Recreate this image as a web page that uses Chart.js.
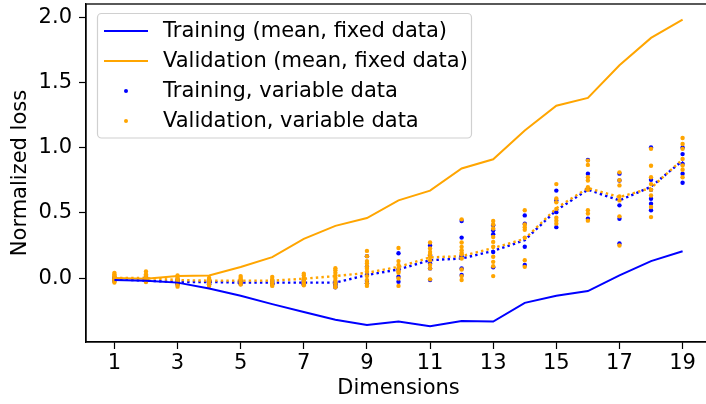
<!DOCTYPE html>
<html>
<head>
<meta charset="utf-8">
<script src="https://cdn.jsdelivr.net/npm/chart.js@4.4.0/dist/chart.umd.min.js"></script>
<style>
  html, body { margin: 0; padding: 0; background: #fff; overflow: hidden; }
  #wrap { width: 720px; height: 404px; }
</style>
</head>
<body>
<div id="wrap"><canvas id="myChart" width="720" height="404"></canvas></div>
<script>
// dimensões (eixo x)
const dims = [1, 2, 3, 4, 5, 6, 7, 8, 9, 10, 11, 12, 13, 14, 15, 16, 17, 18, 19]
const xTicks = [1, 3, 5, 7, 9, 11, 13, 15, 17, 19]
const yTicks = [0, 0.5, 1.0, 1.5, 2.0]

// médias com dados fixos
const trainFixed = [-0.015, -0.02, -0.035, -0.08, -0.135, -0.2, -0.26, -0.32, -0.36, -0.333, -0.37, -0.33, -0.333, -0.19, -0.135, -0.10, 0.02, 0.13, 0.205]
const valFixed = [0.0, -0.005, 0.015, 0.02, 0.085, 0.16, 0.30, 0.40, 0.46, 0.595, 0.67, 0.84, 0.91, 1.13, 1.32, 1.38, 1.63, 1.84, 1.98]

// médias com dados variáveis (linhas pontilhadas)
const trainVarMean = [-0.01, -0.02, -0.03, -0.03, -0.035, -0.035, -0.035, -0.035, 0.023, 0.066, 0.137, 0.15, 0.208, 0.29, 0.52, 0.677, 0.595, 0.70, 0.90]
const valVarMean = [0.0, 0.0, -0.015, -0.02, -0.02, -0.02, -0.005, 0.015, 0.04, 0.086, 0.158, 0.168, 0.23, 0.30, 0.535, 0.69, 0.62, 0.69, 0.91]

// pontos individuais, um array por dimensão
const trainPts = [
  [-0.01, 0.0, -0.015, 0.005, -0.02],
  [-0.01, 0.0, -0.02, 0.01, -0.025],
  [-0.02, -0.03, -0.04, -0.01, -0.05],
  [-0.02, -0.035, -0.045, -0.03, -0.05],
  [-0.03, -0.04, -0.02, -0.045, -0.035],
  [-0.03, -0.04, -0.05, -0.02, -0.045],
  [-0.02, -0.04, -0.05, -0.03, -0.045],
  [-0.03, -0.05, -0.06, -0.07, -0.04],
  [0.168, 0.086, 0.023, -0.023, -0.04],
  [0.19, 0.066, 0.01, -0.028],
  [0.25, 0.175, 0.112, 0.074, -0.015],
  [0.437, 0.31, 0.168, 0.074, 0.023],
  [0.405, 0.366, 0.336, 0.2, 0.082],
  [0.48, 0.417, 0.24, 0.1],
  [0.67, 0.595, 0.505, 0.39],
  [0.905, 0.8, 0.684, 0.455],
  [0.8, 0.747, 0.557, 0.455, 0.265],
  [1.0, 0.753, 0.676, 0.608, 0.57, 0.52],
  [1.0, 0.95, 0.875, 0.8, 0.73]
]
const valPts = [
  [0.04, 0.03, 0.02, 0.01, 0.0, -0.01, -0.02, -0.035],
  [0.05, 0.03, 0.02, 0.0, -0.01, -0.02, -0.03],
  [0.02, 0.005, -0.01, -0.02, -0.035, -0.05, -0.066],
  [0.0, -0.01, -0.02, -0.035, -0.05, -0.06],
  [0.015, 0.0, -0.01, -0.02, -0.035, -0.05],
  [0.008, -0.01, -0.02, -0.035, -0.05, -0.06],
  [0.033, 0.02, 0.0, -0.01, -0.025, -0.04, -0.055],
  [0.076, 0.06, 0.04, 0.02, 0.0, -0.02, -0.04, -0.06, -0.07],
  [0.208, 0.168, 0.13, 0.112, 0.086, 0.071, 0.048, 0.015, -0.015, -0.04, -0.06],
  [0.23, 0.13, 0.1, 0.074, 0.053, 0.04, -0.003, -0.06],
  [0.272, 0.226, 0.2, 0.183, 0.162, 0.137, 0.1, 0.074, -0.01],
  [0.45, 0.272, 0.239, 0.213, 0.193, 0.183, 0.15, 0.066, 0.015, -0.015],
  [0.437, 0.41, 0.38, 0.315, 0.277, 0.24, 0.163, 0.124, 0.09, 0.015],
  [0.52, 0.41, 0.39, 0.37, 0.31, 0.137, 0.086],
  [0.72, 0.61, 0.58, 0.53, 0.463, 0.44, 0.417],
  [0.9, 0.867, 0.773, 0.747, 0.696, 0.676, 0.52, 0.494, 0.44],
  [0.81, 0.75, 0.71, 0.625, 0.595, 0.473, 0.25],
  [0.99, 0.86, 0.773, 0.72, 0.676, 0.633, 0.545, 0.467],
  [1.073, 1.027, 0.99, 0.913, 0.862, 0.83, 0.773]
]

const BLUE = '#0000ff'
const ORANGE = '#ffa500'

// junta x e y em pares
function pares(ys) {
  return dims.map((d, i) => ({ x: d, y: ys[i] }))
}
function nuvem(listas) {
  const out = []
  listas.forEach((vals, i) => vals.forEach(v => out.push({ x: dims[i], y: v })))
  return out
}

// legenda no estilo matplotlib, dentro do gráfico
const legendaPlugin = {
  id: 'legenda',
  afterDraw(chart) {
    const ctx = chart.ctx
    const itens = [
      { label: 'Training (mean, fixed data)', color: BLUE, tipo: 'linha' },
      { label: 'Validation (mean, fixed data)', color: ORANGE, tipo: 'linha' },
      { label: 'Training, variable data', color: BLUE, tipo: 'ponto' },
      { label: 'Validation, variable data', color: ORANGE, tipo: 'ponto' }
    ]
    const x0 = 97.5, y0 = 13.5, w = 374, h = 124.5
    ctx.save()
    ctx.beginPath()
    ctx.roundRect(x0, y0, w, h, 4)
    ctx.fillStyle = 'rgba(255,255,255,0.8)'
    ctx.fill()
    ctx.strokeStyle = '#d0d0d0'
    ctx.lineWidth = 1.2
    ctx.stroke()
    ctx.font = '21px "DejaVu Sans"'
    ctx.textBaseline = 'middle'
    itens.forEach((it, i) => {
      const cy = 31 + i * 30
      if (it.tipo === 'linha') {
        ctx.beginPath()
        ctx.moveTo(104, cy)
        ctx.lineTo(148, cy)
        ctx.strokeStyle = it.color
        ctx.lineWidth = 2
        ctx.stroke()
      } else {
        ctx.beginPath()
        ctx.arc(126, cy, 2, 0, Math.PI * 2)
        ctx.fillStyle = it.color
        ctx.fill()
      }
      ctx.fillStyle = '#000'
      ctx.fillText(it.label, 163, cy + 1)
    })
    ctx.restore()
  }
}

// moldura (spines de cima e da direita)
const molduraPlugin = {
  id: 'moldura',
  afterDatasetsDraw(chart) {
    const a = chart.chartArea
    const ctx = chart.ctx
    ctx.save()
    ctx.strokeStyle = '#000'
    ctx.lineWidth = 1.3
    ctx.strokeRect(a.left, a.top, a.right - a.left, a.bottom - a.top)
    ctx.restore()
  }
}

Chart.defaults.font.family = '"DejaVu Sans"'
Chart.defaults.font.size = 21
Chart.defaults.color = '#000'

const ctx = document.getElementById('myChart').getContext('2d')

new Chart(ctx, {
  type: 'scatter',
  data: {
    datasets: [
      {
        label: 'Training (mean, fixed data)',
        type: 'line',
        data: pares(trainFixed),
        borderColor: BLUE,
        borderWidth: 2,
        pointRadius: 0,
        fill: false,
        order: 1
      },
      {
        label: 'Validation (mean, fixed data)',
        type: 'line',
        data: pares(valFixed),
        borderColor: ORANGE,
        borderWidth: 2,
        pointRadius: 0,
        fill: false,
        order: 2
      },
      {
        label: 'Validation, variable data',
        data: nuvem(valPts),
        backgroundColor: ORANGE,
        borderWidth: 0,
        pointRadius: 2.2,
        order: 3
      },
      {
        label: 'Training, variable data',
        data: nuvem(trainPts),
        backgroundColor: BLUE,
        borderWidth: 0,
        pointRadius: 2.2,
        order: 4
      },
      {
        label: 'val mean var',
        type: 'line',
        data: pares(valVarMean),
        borderColor: ORANGE,
        borderWidth: 2.4,
        borderDash: [2.4, 3.2],
        pointRadius: 0,
        fill: false,
        order: 5
      },
      {
        label: 'train mean var',
        type: 'line',
        data: pares(trainVarMean),
        borderColor: BLUE,
        borderWidth: 2.4,
        borderDash: [2.4, 3.2],
        pointRadius: 0,
        fill: false,
        order: 6
      }
    ]
  },
  options: {
    responsive: false,
    animation: false,
    layout: { padding: { top: 3, right: 9, left: 0, bottom: 0 } },
    plugins: {
      legend: { display: false },
      tooltip: { enabled: false }
    },
    scales: {
      x: {
        type: 'linear',
        min: 0.1,
        max: 19.9,
        afterBuildTicks: s => { s.ticks = xTicks.map(v => ({ value: v })) },
        afterFit: s => { s.height = 62; s.paddingLeft = 0; s.paddingRight = 0 },
        ticks: { padding: 2, maxRotation: 0, autoSkip: false },
        grid: { drawOnChartArea: false, color: '#000', tickLength: 7, tickWidth: 1.2 },
        border: { display: true, color: '#000', width: 1.3 },
        title: { display: true, text: 'Dimensions', padding: { top: 0, bottom: 3 } }
      },
      y: {
        type: 'linear',
        min: -0.49,
        max: 2.1,
        afterBuildTicks: s => { s.ticks = yTicks.map(v => ({ value: v })) },
        afterFit: s => { s.width = 86; s.paddingTop = 0; s.paddingBottom = 0 },
        ticks: { padding: 7, callback: v => v.toFixed(1) },
        grid: { drawOnChartArea: false, color: '#000', tickLength: 7, tickWidth: 1.2 },
        border: { display: true, color: '#000', width: 1.3 },
        title: { display: true, text: 'Normalized loss', padding: { top: 8, bottom: 0 } }
      }
    }
  },
  plugins: [molduraPlugin, legendaPlugin]
})
</script>
</body>
</html>
